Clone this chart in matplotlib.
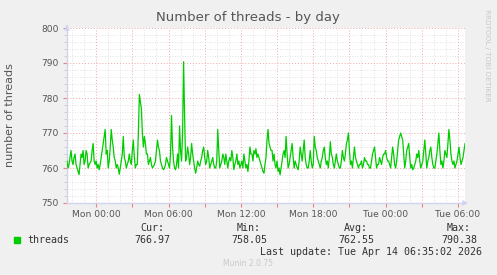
import matplotlib
matplotlib.use("Agg")
import matplotlib.pyplot as plt
import matplotlib.dates as mdates
import numpy as np
import pandas as pd

# ---- data ----
series_name = "threads"
start_time = "2026-04-12 21:35"
end_time = "2026-04-14 06:35"
threads = [
    762, 760, 761, 763, 765, 762, 761, 763, 764, 761, 760, 759, 758.1, 761, 764, 763,
    765, 761, 762, 765, 764, 760, 761, 761.5, 762, 765, 767, 762, 761, 762, 760, 761,
    759.5, 761, 763, 765, 767, 769, 771, 764, 765, 760, 762, 766, 771, 768, 766, 763,
    762, 760, 761, 760, 758.2, 760, 762, 764, 769, 763, 762, 760, 761, 762, 764, 762,
    761, 765, 768, 763, 760, 761, 761, 770, 781, 779, 777, 770, 766, 769, 767, 764,
    764, 761, 762, 763, 761, 760, 760.5, 761, 762, 765, 768, 766, 765, 762, 761, 760,
    759.5, 760, 761, 763, 762, 761, 760, 764, 775, 766, 762, 760, 759.5, 761, 764, 760,
    772, 765, 762, 770, 790.38, 775, 762, 763, 766, 764, 761, 763, 767, 764, 762, 760,
    758.5, 760, 762, 761, 760.5, 762, 763, 765, 766, 763, 761, 762, 765, 763, 760, 761,
    762, 763, 761, 760, 760, 762, 771, 765, 760, 761, 762, 764, 763, 761, 764, 762,
    760, 762, 763, 762, 765, 763, 759.5, 761, 762, 764, 761, 762, 760, 761, 762, 760,
    764, 762, 760, 761, 759, 762, 766, 764, 764, 762, 765, 764, 765.5, 763, 764, 763,
    762, 761, 760, 759, 758.5, 761, 763, 768, 771, 767, 766, 765, 765, 762, 764, 761,
    760, 762, 759, 760, 758.05, 760, 762, 764, 765, 763, 769, 764, 760, 761, 763, 765,
    767, 763, 760, 762, 761, 760, 759.5, 762, 766, 764, 762, 765, 768, 763, 761, 760,
    760, 762, 765, 762, 760, 761, 769, 766, 765, 763, 762, 761, 760, 762, 763, 765,
    766, 763, 761, 762, 760, 763, 767.5, 764, 763, 761, 760, 762, 764, 762, 761, 760,
    760, 762, 765, 763, 762, 764, 767, 768, 770, 765, 761, 762, 760, 763, 766, 763,
    762, 761, 760, 761, 761, 762, 760, 761, 763, 762, 762, 761, 761, 760, 760, 762,
    764, 765, 766, 763, 760, 761, 761, 763, 762, 761, 763, 764, 764, 765, 763, 762,
    762, 761, 760, 763, 766, 764, 761, 760, 762, 765, 768, 769, 770, 769, 768, 764,
    760, 762, 765, 766, 767, 763, 760, 761, 759.5, 760, 761, 762, 764, 763, 765, 762,
    760, 761, 762, 765, 768, 764, 760, 762, 763, 765, 766, 763, 761, 760, 760, 762,
    764, 767, 770, 765, 761, 762, 760, 762, 765, 764, 763, 767, 771, 768, 764, 762,
    761, 762, 760, 761, 762, 764, 766, 763, 761, 762, 763, 765, 766.97,
]
stat_labels = ["Cur:", "Min:", "Avg:", "Max:"]
stat_values = ["766.97", "758.05", "762.55", "790.38"]
title = "Number of threads - by day"
ylabel = "number of threads"
last_update = "Last update: Tue Apr 14 06:35:02 2026"
y_min, y_max = 750, 800

times = pd.date_range(start_time, end_time, periods=len(threads))

W, H = 497, 275
fig = plt.figure(figsize=(W / 100, H / 100), dpi=100, facecolor="#F0F0F0")
ax = fig.add_axes([67 / W, (H - 203) / H, (465 - 67) / W, 175 / H])
ax.set_facecolor("white")

ax.plot(times, threads, color="#00CC00", lw=0.9, zorder=3)

ax.set_ylim(y_min, y_max)
ax.set_xlim(pd.Timestamp(start_time), pd.Timestamp(end_time))

ax.yaxis.set_major_locator(matplotlib.ticker.MultipleLocator(10))
ax.yaxis.set_minor_locator(matplotlib.ticker.MultipleLocator(2))
ax.xaxis.set_major_locator(mdates.HourLocator(byhour=range(0, 24, 3)))
ax.xaxis.set_minor_locator(mdates.HourLocator())

def fmt(x, pos):
    d = mdates.num2date(x)
    if d.hour % 6 == 0:
        return d.strftime("%a %H:%M")
    return ""
ax.xaxis.set_major_formatter(matplotlib.ticker.FuncFormatter(fmt))

ax.grid(which="minor", color="#D8D8D8", linestyle=(0, (1, 2)), lw=0.6, zorder=1)
ax.grid(which="major", color="#F0A8A8", linestyle=(0, (1, 2)), lw=0.7, zorder=2)

for s in ["top", "right"]:
    ax.spines[s].set_visible(False)
for s in ["left", "bottom"]:
    ax.spines[s].set_color("#D0D4F0")
    ax.spines[s].set_linewidth(1.0)

ax.tick_params(axis="x", which="major", length=3, color="#F08080", labelsize=6.6,
               labelcolor="#555555", pad=2)
ax.tick_params(axis="x", which="minor", length=0)
ax.tick_params(axis="y", which="major", length=3, color="#F08080", labelsize=6.6,
               labelcolor="#555555", pad=3)
ax.tick_params(axis="y", which="minor", length=2, color="#C8C8C8")

# axis arrows
ax.annotate("", xy=(0, 1.035), xytext=(0, 0.99), xycoords="axes fraction",
            arrowprops=dict(arrowstyle="-|>", color="#D0D4F0", lw=1, mutation_scale=7),
            annotation_clip=False)
ax.annotate("", xy=(1.015, 0), xytext=(0.99, 0), xycoords="axes fraction",
            arrowprops=dict(arrowstyle="-|>", color="#D0D4F0", lw=1, mutation_scale=7),
            annotation_clip=False)

def px(x, y):
    return x / W, 1 - y / H

fig.text(*px(248, 18), title, ha="center", va="center", fontsize=9.5, color="#555555")
fig.text(*px(10, 115), ylabel, ha="center", va="center", rotation=90, fontsize=8,
         color="#555555")
fig.text(*px(487, 55), "RRDTOOL / TOBI OETIKER", ha="center", va="center",
         rotation=270, fontsize=5.2, color="#C8C8C8")

mono = "DejaVu Sans Mono"
fig.patches.append(plt.Rectangle(px(14, 243), 6 / W, 6 / H, transform=fig.transFigure,
                                 color="#00CC00", figure=fig))
fig.text(*px(27, 240), series_name, ha="left", va="center", fontsize=7.2,
         family=mono, color="#333333")
col_x = [152, 249, 356, 459]
for cx, lab, val in zip(col_x, stat_labels, stat_values):
    fig.text(*px(cx, 228), lab, ha="center", va="center", fontsize=7.2, family=mono,
             color="#333333")
    fig.text(*px(cx, 240), val, ha="center", va="center", fontsize=7.2, family=mono,
             color="#333333")
fig.text(*px(482, 252), last_update, ha="right", va="center", fontsize=7.2,
         family=mono, color="#333333")
fig.text(*px(248, 264), "Munin 2.0.75", ha="center", va="center", fontsize=5.5,
         color="#C8C8C8")

fig.savefig("out.png", dpi=100, facecolor=fig.get_facecolor())
